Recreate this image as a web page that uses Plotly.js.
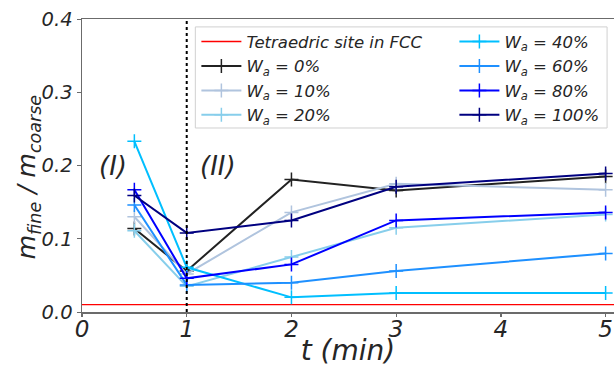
<!DOCTYPE html>
<html>
<head>
<meta charset="utf-8">
<script src="https://cdn.plot.ly/plotly-3.0.1.min.js"></script>
<style>html,body{margin:0;padding:0;background:#fff;}#chart{width:614px;height:367px;}</style>
</head>
<body>
<div id="chart"></div>
<script>
// ---- data ----
const times = [0.5, 1, 2, 3, 5];
const w0   = [0.114, 0.056, 0.181, 0.166, 0.185];
const w10  = [0.130, 0.052, 0.136, 0.175, 0.167];
const w20  = [0.111, 0.035, 0.075, 0.115, 0.133];
const w40  = [0.233, 0.061, 0.020, 0.026, 0.026];
const w60  = [0.146, 0.037, 0.040, 0.056, 0.080];
const w80  = [0.167, 0.046, 0.065, 0.125, 0.136];
const w100 = [0.159, 0.108, 0.125, 0.171, 0.189];
const tetraX = [0, 6];
const tetraY = [0.01, 0.01];
const phaseBoundary = 1;
const xTicks = [0, 1, 2, 3, 4, 5];
const xTickText = ['0', '1', '2', '3', '4', '5'];
const yTicks = [0, 0.1, 0.2, 0.3, 0.4];
const yTickText = ['0.0', '0.1', '0.2', '0.3', '0.4'];
const seriesNames = ['W<sub>a</sub> = 0%','W<sub>a</sub> = 10%','W<sub>a</sub> = 20%','W<sub>a</sub> = 40%','W<sub>a</sub> = 60%','W<sub>a</sub> = 80%','W<sub>a</sub> = 100%'];
const seriesData = [w0, w10, w20, w40, w60, w80, w100];
const seriesColors = ['#222222','#b0c4de','#87ceeb','#00bfff','#1e90ff','#0000ff','#000080'];
const seriesLegend = ['legend','legend','legend','legend2','legend2','legend2','legend2'];
const phaseLabels = [{x:0.3, y:0.2, text:'(I)'},{x:1.3, y:0.2, text:'(II)'}];

const FONT = 'DejaVu Sans, Liberation Sans, sans-serif';
const traces = [{
  x: tetraX, y: tetraY, mode: 'lines', name: 'Tetraedric site in FCC',
  line: {color: '#ff0000', width: 1.3}, legend: 'legend', legendgroup: 'g0'
}];
seriesData.forEach((d, i) => {
  traces.push({
    x: times, y: d, mode: 'lines+markers', name: seriesNames[i],
    line: {color: seriesColors[i], width: 2},
    marker: {symbol: 'cross-thin', size: 10, line: {color: seriesColors[i], width: 1.5}},
    legend: seriesLegend[i], legendgroup: 'g' + (i + 1)
  });
});

const legendCommon = {
  bgcolor: 'rgba(0,0,0,0)', borderwidth: 0, tracegroupgap: 0,
  font: {family: FONT, size: 16.5, color: '#262626', style: 'italic'},
  xanchor: 'left', yanchor: 'top', itemwidth: 40
};

const layout = {
  width: 614, height: 367,
  margin: {l: 81.5, r: 0, t: 19, b: 55},
  paper_bgcolor: '#fff', plot_bgcolor: '#fff',
  showlegend: true,
  xaxis: {
    range: [0, 5.08], tickvals: xTicks, ticktext: xTickText,
    showgrid: false, zeroline: false, showline: true, mirror: true,
    linecolor: '#6b6b6b', linewidth: 1.5, ticks: '', ticklabelstandoff: -4,
    tickfont: {family: FONT, size: 23, color: '#262626', style: 'italic'},
    title: {text: 't (min)', font: {family: FONT, size: 28, color: '#262626', style: 'italic'}, standoff: 6}
  },
  xaxis2: {
    matches: 'x', overlaying: 'x', range: [0, 5.08], tickvals: xTicks, showticklabels: false,
    showgrid: false, zeroline: false, showline: false,
    ticks: 'outside', ticklen: 4, tickcolor: '#6b6b6b', tickwidth: 1.2
  },
  yaxis: {
    range: [0, 0.4], tickvals: yTicks, ticktext: yTickText,
    showgrid: false, zeroline: false, showline: true, mirror: true,
    linecolor: '#6b6b6b', linewidth: 1.5, ticks: 'outside', ticklen: 4, tickcolor: '#6b6b6b',
    tickfont: {family: FONT, size: 19.5, color: '#262626', style: 'italic'}
  },
  legend: Object.assign({}, legendCommon, {x: 0.215, y: 0.982}),
  legend2: Object.assign({}, legendCommon, {x: 0.70, y: 0.982}),
  shapes: [
    {type: 'line', xref: 'x', yref: 'paper', x0: phaseBoundary, x1: phaseBoundary, y0: 0, y1: 1,
     line: {color: '#000', width: 2, dash: 'dot'}, layer: 'above'},
    {type: 'rect', xref: 'paper', yref: 'paper', x0: 0.213, x1: 0.987, y0: 0.628, y1: 0.973,
     line: {color: '#d0d0d0', width: 1}, fillcolor: 'rgba(255,255,255,0.8)', layer: 'above'}
  ],
  annotations: phaseLabels.map(p => ({
    x: p.x, y: p.y, xref: 'x', yref: 'y', text: p.text, showarrow: false,
    font: {family: FONT, size: 26, color: '#262626', style: 'italic'}
  })).concat([{
    xref: 'paper', yref: 'paper', x: -0.1, y: 0.5, xanchor: 'center', yanchor: 'middle',
    xshift: -1, yshift: -12,
    text: 'm<sub>fine</sub> / m<sub>coarse</sub>', textangle: -90, showarrow: false,
    font: {family: FONT, size: 25, color: '#262626', style: 'italic'}
  }])
};

// invisible helper trace that activates the tick-mark overlay axis
traces.push({x: [0], y: [0], xaxis: 'x2', yaxis: 'y', mode: 'markers', marker: {opacity: 0}, showlegend: false, hoverinfo: 'skip'});

Plotly.newPlot('chart', traces, layout, {staticPlot: true, displayModeBar: false});
</script>
</body>
</html>
